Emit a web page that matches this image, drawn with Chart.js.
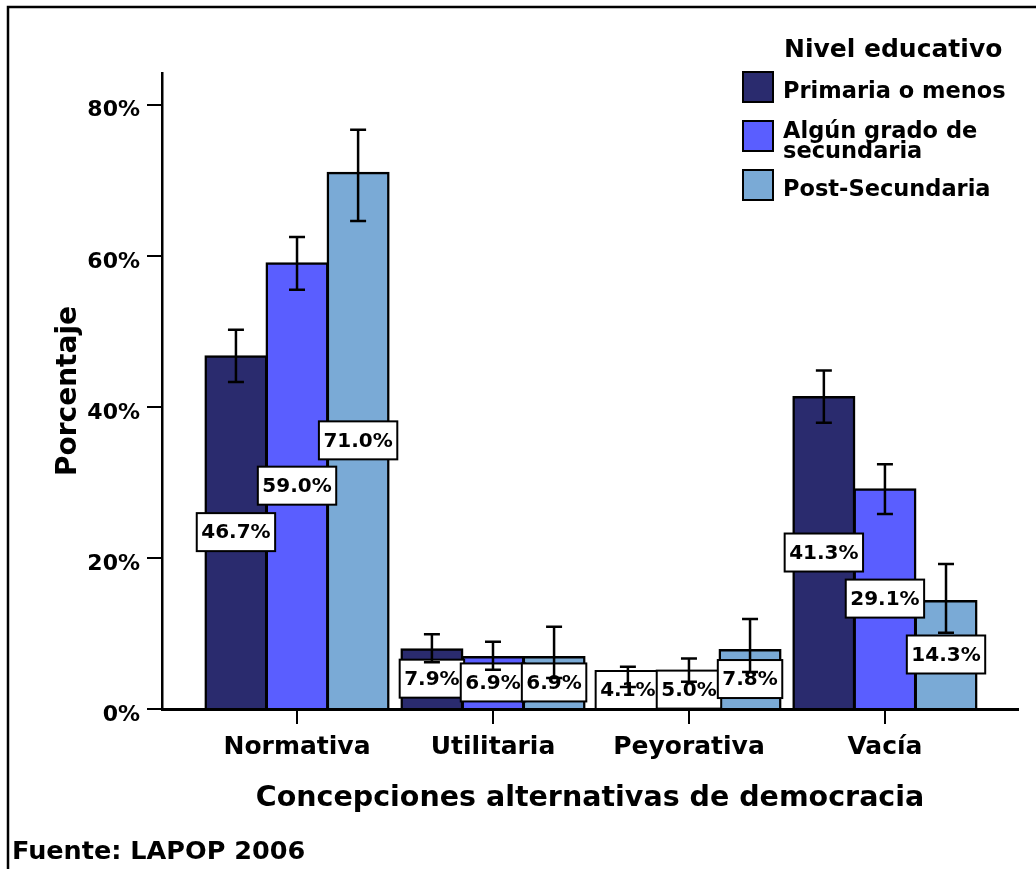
<!DOCTYPE html>
<html>
<head>
<meta charset="utf-8">
<script src="https://cdn.jsdelivr.net/npm/chart.js@4.4.1/dist/chart.umd.min.js"></script>
<style>
  html, body { margin: 0; padding: 0; background: #fff; }
  #wrap { width: 1036px; height: 869px; position: relative; }
</style>
</head>
<body>
<div id="wrap"><canvas id="chart"></canvas></div>
<script>
const categories = ['Normativa', 'Utilitaria', 'Peyorativa', 'Vacía'];
const seriesNames = ['Primaria o menos', 'Algún grado de\nsecundaria', 'Post-Secundaria'];

const primaria = [46.7, 7.9, 4.1, 41.3];
const algunGrado = [59.0, 6.9, 5.0, 29.1];
const postSecundaria = [71.0, 6.9, 7.8, 14.3];

// intervalos de confianza (95%)
const primariaLow = [43.3, 6.2, 2.9, 37.9];
const primariaHigh = [50.2, 9.9, 5.6, 44.8];
const algunLow = [55.5, 5.2, 3.6, 25.8];
const algunHigh = [62.5, 8.9, 6.7, 32.4];
const postLow = [64.6, 4.1, 4.9, 10.1];
const postHigh = [76.7, 10.9, 11.9, 19.2];

const yTicks = [0, 20, 40, 60, 80];

const FONT = '"DejaVu Sans", Verdana, sans-serif';
const colors = ['#2a2b6e', '#5a5eff', '#7aaad6'];
const values = [primaria, algunGrado, postSecundaria];
const lows = [primariaLow, algunLow, postLow];
const highs = [primariaHigh, algunHigh, postHigh];

const datasets = values.map((vals, d) => ({
  label: seriesNames[d],
  data: vals.map((v, i) => ({ x: i, y: v })),
  low: lows[d],
  high: highs[d],
  backgroundColor: colors[d],
  borderColor: '#000',
  borderWidth: 2.5,
  inflateAmount: 1,
  categoryPercentage: 0.935,
  barPercentage: 1,
}));

// etiquetas de valor y barras de error
const barExtras = {
  id: 'barExtras',
  afterDatasetsDraw(chart) {
    const { ctx } = chart;
    const y = chart.scales.y;
    const zero = y.getPixelForValue(0);
    ctx.save();
    ctx.font = `bold 20px ${FONT}`;
    ctx.textAlign = 'center';
    ctx.textBaseline = 'middle';
    chart.data.datasets.forEach((ds, d) => {
      chart.getDatasetMeta(d).data.forEach((bar, i) => {
        const text = ds.data[i].y.toFixed(1) + '%';
        const w = ctx.measureText(text).width + 9;
        const h = 38;
        let cy = (bar.y + bar.base) / 2;
        if (cy + h / 2 > zero) cy = zero - h / 2;
        ctx.fillStyle = '#fff';
        ctx.fillRect(bar.x - w / 2, cy - h / 2, w, h);
        ctx.strokeStyle = '#000';
        ctx.lineWidth = 2;
        ctx.strokeRect(bar.x - w / 2, cy - h / 2, w, h);
        ctx.fillStyle = '#000';
        ctx.fillText(text, bar.x, cy + 1);
      });
    });
    ctx.strokeStyle = '#000';
    ctx.lineWidth = 2.5;
    chart.data.datasets.forEach((ds, d) => {
      chart.getDatasetMeta(d).data.forEach((bar, i) => {
        const top = y.getPixelForValue(ds.high[i]);
        const bot = y.getPixelForValue(ds.low[i]);
        ctx.beginPath();
        ctx.moveTo(bar.x, top);
        ctx.lineTo(bar.x, bot);
        ctx.moveTo(bar.x - 8, top);
        ctx.lineTo(bar.x + 8, top);
        ctx.moveTo(bar.x - 8, bot);
        ctx.lineTo(bar.x + 8, bot);
        ctx.stroke();
      });
    });
    ctx.restore();
  },
};

// leyenda, marco y fuente
const decorations = {
  id: 'decorations',
  afterDraw(chart) {
    const { ctx } = chart;
    ctx.save();
    ctx.strokeStyle = '#000';
    ctx.lineWidth = 2.5;
    ctx.beginPath();
    ctx.moveTo(8, 869);
    ctx.lineTo(8, 7);
    ctx.lineTo(1036, 7);
    ctx.stroke();

    ctx.fillStyle = '#000';
    ctx.textAlign = 'left';
    ctx.textBaseline = 'alphabetic';
    ctx.font = `bold 25px ${FONT}`;
    ctx.fillText('Nivel educativo', 784, 57);

    ctx.font = `bold 22.5px ${FONT}`;
    let top = 72;
    chart.data.datasets.forEach((ds) => {
      const lines = ds.label.split('\n');
      ctx.fillStyle = ds.backgroundColor;
      ctx.fillRect(743, top, 30, 30);
      ctx.strokeStyle = '#000';
      ctx.lineWidth = 2;
      ctx.strokeRect(743, top, 30, 30);
      ctx.fillStyle = '#000';
      const last = top + 26 + (lines.length - 1) * 11;
      lines.forEach((line, k) => {
        ctx.fillText(line, 783, last - (lines.length - 1 - k) * 20);
      });
      top += 49;
    });

    ctx.font = `bold 25.5px ${FONT}`;
    ctx.fillText('Fuente: LAPOP 2006', 12, 859);
    ctx.restore();
  },
};

new Chart(document.getElementById('chart'), {
  type: 'bar',
  data: { datasets },
  options: {
    responsive: true,
    maintainAspectRatio: false,
    animation: false,
    layout: { padding: { left: 0, top: 73, right: 18, bottom: 49 } },
    plugins: {
      legend: { display: false },
      tooltip: { enabled: false },
    },
    scales: {
      x: {
        type: 'linear',
        offset: false,
        min: -0.689,
        max: 3.679,
        afterBuildTicks: (s) => { s.ticks = categories.map((c, i) => ({ value: i })); },
        afterFit: (s) => { s.height = 111; },
        ticks: {
          callback: (v) => categories[v],
          autoSkip: false,
          maxRotation: 0,
          padding: 8,
          color: '#000',
          font: { family: FONT, size: 25, weight: 'bold' },
        },
        grid: { offset: false, drawOnChartArea: false, tickLength: 15, color: '#000', lineWidth: 2 },
        border: { color: '#000', width: 3 },
        title: {
          display: true,
          text: 'Concepciones alternativas de democracia',
          color: '#000',
          font: { family: FONT, size: 28.5, weight: 'bold' },
          padding: { top: 0, bottom: 4 },
        },
      },
      y: {
        min: 0,
        max: 84.2,
        afterBuildTicks: (s) => { s.ticks = yTicks.map((v) => ({ value: v })); },
        afterFit: (s) => { s.width = 162; },
        ticks: {
          callback: (v) => v + '%',
          padding: 7,
          labelOffset: 6,
          color: '#000',
          font: { family: FONT, size: 22, weight: 'bold' },
        },
        grid: { drawOnChartArea: false, tickLength: 15, color: '#000', lineWidth: 2 },
        border: { color: '#000', width: 2.5 },
        title: {
          display: true,
          text: 'Porcentaje',
          color: '#000',
          font: { family: FONT, size: 28, weight: 'bold' },
          padding: { top: 52 },
        },
      },
    },
  },
  plugins: [barExtras, decorations],
});
</script>
</body>
</html>
